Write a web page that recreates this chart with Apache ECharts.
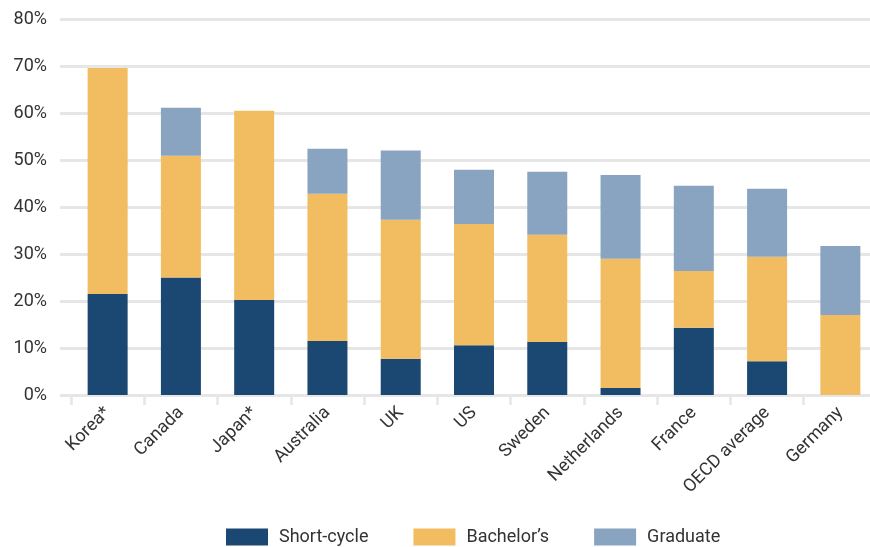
<!DOCTYPE html>
<html>
<head>
<meta charset="utf-8">
<script src="https://cdn.jsdelivr.net/npm/echarts@6/dist/echarts.min.js"></script>
<style>
  html, body { margin: 0; padding: 0; background: #fff; overflow: hidden; }
  /* the last category band runs a few pixels past the right edge of the window */
  #chart { width: 877px; height: 547px; }
</style>
</head>
<body>
<div id="chart"></div>
<script>
// Share of young adults with a tertiary qualification, by level (%)
const countries = ['Korea*', 'Canada', 'Japan*', 'Australia', 'UK', 'US', 'Sweden', 'Netherlands', 'France', 'OECD average', 'Germany'];
const shortCycle = [21.5, 25.0, 20.2, 11.5, 7.7, 10.6, 11.3, 1.5, 14.3, 7.2, 0];
const bachelors  = [48.1, 25.9, 40.3, 31.3, 29.6, 25.8, 22.8, 27.5, 12.1, 22.2, 17.0];
const graduate   = [0, 10.2, 0, 9.6, 14.7, 11.5, 13.4, 17.8, 18.1, 14.5, 14.7];
const yTicks = [0, 10, 20, 30, 40, 50, 60, 70, 80];

const FONT = 'Roboto';
const GRID_COLOR = '#e6e6e6';
const TEXT_COLOR = '#333333';

const chart = echarts.init(document.getElementById('chart'));

const yMin = yTicks[0];
const yMax = yTicks[yTicks.length - 1];
const yStep = yTicks[1] - yTicks[0];

function barSeries(name, data, color) {
  return {
    name: name,
    type: 'bar',
    stack: 'total',
    xAxisIndex: 1,
    yAxisIndex: 1,
    barWidth: 40,
    itemStyle: { color: color },
    emphasis: { disabled: true },
    data: data
  };
}

chart.setOption({
  animation: false,
  backgroundColor: '#ffffff',
  grid: [
    // gridlines and percentage labels
    { left: 60, right: 7, top: 19, bottom: 152 },
    // the bars
    { left: 71, right: 0, top: 19, bottom: 152 }
  ],
  legend: {
    top: 528,
    left: 226,
    itemWidth: 42,
    itemHeight: 17,
    itemGap: 45,
    icon: 'rect',
    padding: 0,
    textStyle: { fontFamily: FONT, fontSize: 18, color: TEXT_COLOR, padding: [0, 0, 0, 6] },
    data: ['Short-cycle', 'Bachelor\u2019s', 'Graduate']
  },
  xAxis: [
    {
      gridIndex: 0,
      type: 'category',
      data: countries,
      show: false
    },
    {
      gridIndex: 1,
      type: 'category',
      data: countries,
      axisLine: { show: true, lineStyle: { color: GRID_COLOR, width: 3 } },
      axisTick: { show: true, length: 10, lineStyle: { color: GRID_COLOR, width: 2.5 } },
      axisLabel: {
        rotate: 45,
        margin: 15,
        fontFamily: FONT,
        fontSize: 18,
        color: TEXT_COLOR,
        interval: 0
      }
    }
  ],
  yAxis: [
    {
      gridIndex: 0,
      type: 'value',
      min: yMin,
      max: yMax,
      interval: yStep,
      axisLine: { show: false },
      axisTick: { show: false },
      splitLine: { show: true, lineStyle: { color: GRID_COLOR, width: 3 } },
      axisLabel: {
        margin: 13,
        fontFamily: FONT,
        fontSize: 18,
        color: TEXT_COLOR,
        formatter: v => v + '%'
      }
    },
    {
      gridIndex: 1,
      type: 'value',
      min: yMin,
      max: yMax,
      interval: yStep,
      show: false,
      splitLine: { show: false }
    }
  ],
  series: [
    barSeries('Short-cycle', shortCycle, '#1b4872'),
    barSeries('Bachelor\u2019s', bachelors, '#f2bc61'),
    barSeries('Graduate', graduate, '#89a4c1')
  ]
});
</script>
</body>
</html>
